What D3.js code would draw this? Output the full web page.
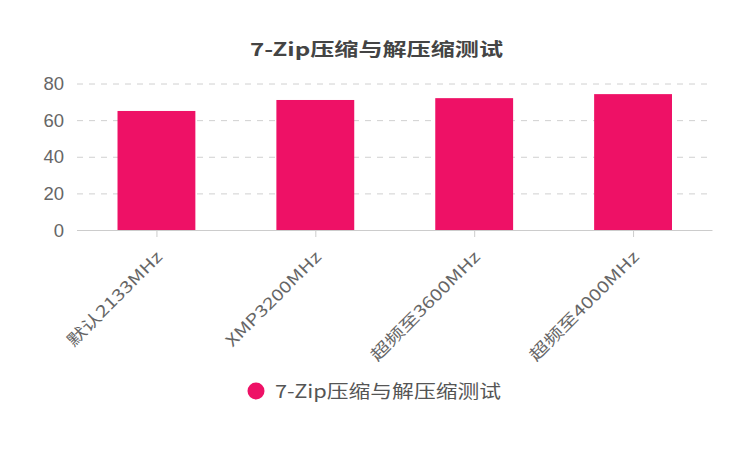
<!DOCTYPE html>
<html><head><meta charset="utf-8">
<script src="https://cdn.jsdelivr.net/npm/d3@7"></script>
<style>
html,body{margin:0;padding:0;background:#fff;}
svg{display:block;font-family:"Noto Sans CJK SC","Noto Sans",sans-serif;}
</style></head>
<body><svg id="c" width="751" height="451"></svg>
<script>
const title = "7-Zip压缩与解压缩测试";
const categories = ["默认2133MHz","XMP3200MHz","超频至3600MHz","超频至4000MHz"];
const values = [65, 71, 72, 74.2];
const yTicks = [0,20,40,60,80];
const seriesName = "7-Zip压缩与解压缩测试";
const color = "#ee1166";

const svg = d3.select("#c");
const L = 77, R = 712.5, T = 83.5, B = 230;
const x = d3.scaleBand().domain(categories).range([L, R]).padding(0);
const y = d3.scaleLinear().domain([0, 80]).range([B, T]);

// title
svg.append("text").attr("x", 250).attr("y", 56)
  .attr("font-size", 18).attr("font-weight","bold").attr("fill","#444")
  .attr("textLength", 253).attr("lengthAdjust","spacingAndGlyphs").text(title);

// grid
svg.append("g").selectAll("line").data(yTicks.filter(d=>d>0)).join("line")
  .attr("x1", L).attr("x2", R).attr("y1", d=>y(d)+0.5).attr("y2", d=>y(d)+0.5)
  .attr("stroke","#d0d0d0").attr("stroke-width",1).attr("stroke-dasharray","6,6");

// y labels
svg.append("g").selectAll("text").data(yTicks).join("text")
  .attr("x", 64).attr("y", d=>y(d)).attr("dy","0.36em").attr("text-anchor","end")
  .attr("font-size", 18.5).attr("fill","#666").attr("font-family","Liberation Sans, Arial, sans-serif").text(d=>d);

// bars
const bw = x.bandwidth()*0.49;
svg.append("g").selectAll("rect").data(values).join("rect")
  .attr("x", (d,i)=>x(categories[i]) + x.bandwidth()/2 - bw/2)
  .attr("width", bw)
  .attr("y", d=>y(d)).attr("height", d=>B - y(d))
  .attr("fill", color);

// x axis
svg.append("line").attr("x1", L).attr("x2", R).attr("y1", B+0.5).attr("y2", B+0.5)
  .attr("stroke","#ccc").attr("stroke-width",1);
svg.append("g").selectAll("line").data(categories).join("line")
  .attr("x1", d=>x(d)+x.bandwidth()/2+0.5).attr("x2", d=>x(d)+x.bandwidth()/2+0.5)
  .attr("y1", B).attr("y2", B+7).attr("stroke","#ccc");

// x labels
const xl = svg.append("g").selectAll("text").data(categories).join("text")
  .attr("transform", d=>`translate(${x(d)+x.bandwidth()/2+7},${B+28}) rotate(-45)`)
  .attr("text-anchor","end").attr("font-size", 16).attr("fill","#666").text(d=>d);
xl.each(function(){
  const len = this.getComputedTextLength();
  d3.select(this).attr("textLength", len*1.27).attr("lengthAdjust","spacingAndGlyphs");
});

// legend
svg.append("circle").attr("cx", 256).attr("cy", 391).attr("r", 8.5).attr("fill", color);
svg.append("text").attr("x", 275).attr("y", 397.5)
  .attr("font-size", 18).attr("fill","#555")
  .attr("textLength", 226).attr("lengthAdjust","spacingAndGlyphs").text(seriesName);
</script></body></html>
